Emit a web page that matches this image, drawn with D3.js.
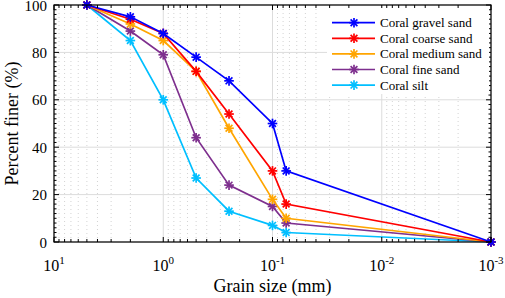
<!DOCTYPE html>
<html>
<head>
<meta charset="utf-8">
<style>
  body { margin: 0; background: #fff; }
  svg text { font-family: 'Liberation Serif', 'DejaVu Serif', serif; fill: #000; }
</style>
</head>
<body>
<svg id="chart" width="505" height="298"></svg>
<script src="https://d3js.org/d3.v7.min.js"></script>
<script>
    // grain size (mm) of each sieve, and percent finer per soil
    const grainSizes = [5, 2, 1, 0.5, 0.25, 0.1, 0.075, 0.001]
    const seriesNames = ['Coral gravel sand', 'Coral coarse sand', 'Coral medium sand', 'Coral fine sand', 'Coral silt']
    const gravelSand = [100, 95, 88, 78, 68, 50, 30, 0]
    const coarseSand = [100, 94, 88, 72, 54, 30, 16, 0]
    const mediumSand = [100, 92, 85, 72, 48, 18, 10, 0]
    const fineSand   = [100, 89, 79, 44, 24, 15, 8, 0]
    const silt       = [100, 85, 60, 27, 13, 7, 4, 0]
    const seriesColors = ['#0000ff', '#ff0000', '#ffa500', '#7e2f8e', '#00bfff']
    const xTickExp = [1, 0, -1, -2, -3]
    const yTicks = [0, 20, 40, 60, 80, 100]

    const allSeries = [gravelSand, coarseSand, mediumSand, fineSand, silt]
    const serif = "'Liberation Serif', 'DejaVu Serif', serif"

    const svg = d3.select('#chart')
    const pl = 54, pr = 491, pt = 5, pb = 242

    const xScale = d3.scaleLog()
                     .domain([10, 0.001])
                     .range([pl, pr])
    const yScale = d3.scaleLinear()
                     .domain([0, 100])
                     .range([pb, pt])

    // minor log values 2..9 for each decade
    const minorX = []
    for (let e = -3; e < 1; e++) {
      for (let m = 2; m <= 9; m++) minorX.push(m * Math.pow(10, e))
    }
    const minorY = d3.range(0, 101, 2).filter(v => v % 20 !== 0)

    // grid
    const grid = svg.append('g')
    grid.selectAll('.gmx')
        .data(minorX)
        .join('line')
        .attr('x1', d => xScale(d)).attr('x2', d => xScale(d))
        .attr('y1', pt).attr('y2', pb)
        .attr('stroke', '#c8c8c8')
        .attr('stroke-width', 0.8)
        .attr('stroke-dasharray', '1,3')
    grid.selectAll('.gx')
        .data(xTickExp.map(e => Math.pow(10, e)))
        .join('line')
        .attr('x1', d => xScale(d)).attr('x2', d => xScale(d))
        .attr('y1', pt).attr('y2', pb)
        .attr('stroke', '#dcdcdc')
        .attr('stroke-width', 1)
    grid.selectAll('.gy')
        .data(yTicks)
        .join('line')
        .attr('x1', pl).attr('x2', pr)
        .attr('y1', d => yScale(d)).attr('y2', d => yScale(d))
        .attr('stroke', '#dcdcdc')
        .attr('stroke-width', 1)

    // lines + asterisk markers
    const lineGen = d3.line()
                      .x((d, i) => xScale(grainSizes[i]))
                      .y(d => yScale(d))

    const asterisk = (g, x, y, color) => {
      const r = 4.8, q = r * 0.707
      const segs = [[-r, 0, r, 0], [0, -r, 0, r], [-q, -q, q, q], [-q, q, q, -q]]
      segs.forEach(s => {
        g.append('line')
         .attr('x1', x + s[0]).attr('y1', y + s[1])
         .attr('x2', x + s[2]).attr('y2', y + s[3])
         .attr('stroke', color)
         .attr('stroke-width', 1.7)
      })
    }

    // draw silt first so gravel ends up on top
    for (let k = allSeries.length - 1; k >= 0; k--) {
      const g = svg.append('g')
      g.append('path')
       .attr('d', lineGen(allSeries[k]))
       .attr('fill', 'none')
       .attr('stroke', seriesColors[k])
       .attr('stroke-width', 1.7)
      allSeries[k].forEach((v, i) => asterisk(g, xScale(grainSizes[i]), yScale(v), seriesColors[k]))
    }

    // axes box
    const ax = svg.append('g')
    ax.append('rect')
      .attr('x', pl).attr('y', pt)
      .attr('width', pr - pl).attr('height', pb - pt)
      .attr('fill', 'none')
      .attr('stroke', '#000')
      .attr('stroke-width', 1.2)

    // ticks (inward, on all four sides)
    const tickLines = (vals, len, horiz) => {
      vals.forEach(v => {
        if (horiz) {
          const x = xScale(v)
          ax.append('line').attr('x1', x).attr('x2', x).attr('y1', pb).attr('y2', pb - len).attr('stroke', '#000')
          ax.append('line').attr('x1', x).attr('x2', x).attr('y1', pt).attr('y2', pt + len).attr('stroke', '#000')
        } else {
          const y = yScale(v)
          ax.append('line').attr('x1', pl).attr('x2', pl + len).attr('y1', y).attr('y2', y).attr('stroke', '#000')
          ax.append('line').attr('x1', pr).attr('x2', pr - len).attr('y1', y).attr('y2', y).attr('stroke', '#000')
        }
      })
    }
    tickLines(xTickExp.map(e => Math.pow(10, e)), 5, true)
    tickLines(minorX, 3, true)
    tickLines(yTicks, 5, false)
    tickLines(minorY, 2.5, false)

    // tick labels
    xTickExp.forEach(e => {
      const t = svg.append('text')
                   .attr('x', xScale(Math.pow(10, e)))
                   .attr('y', 271)
                   .attr('text-anchor', 'middle')
                   .attr('font-family', serif)
                   .attr('font-size', 16)
      t.append('tspan').text('10')
      t.append('tspan').attr('font-size', 11).attr('dy', -7).text(e)
    })
    svg.selectAll('.ylab')
       .data(yTicks)
       .join('text')
       .attr('x', 47)
       .attr('y', d => yScale(d) + 0.5)
       .attr('dy', '0.34em')
       .attr('text-anchor', 'end')
       .attr('font-family', serif)
       .attr('font-size', 15)
       .text(d => d)

    // axis titles
    svg.append('text')
       .attr('x', (pl + pr) / 2)
       .attr('y', 292)
       .attr('text-anchor', 'middle')
       .attr('font-family', serif)
       .attr('font-size', 18)
       .text('Grain size (mm)')
    svg.append('text')
       .attr('transform', `translate(18,${(pt + pb) / 2}) rotate(-90)`)
       .attr('text-anchor', 'middle')
       .attr('font-family', serif)
       .attr('font-size', 18)
       .text('Percent finer (%)')

    // legend
    const lg = svg.append('g')
    lg.append('rect')
      .attr('x', 327).attr('y', 8)
      .attr('width', 162).attr('height', 86)
      .attr('fill', '#fff')
    seriesNames.forEach((name, i) => {
      const y = 22.7 + i * 15.6
      lg.append('line')
        .attr('x1', 332).attr('x2', 375)
        .attr('y1', y).attr('y2', y)
        .attr('stroke', seriesColors[i])
        .attr('stroke-width', 1.7)
      asterisk(lg, 354, y, seriesColors[i])
      lg.append('text')
        .attr('x', 380)
        .attr('y', y)
        .attr('dy', '0.35em')
        .attr('font-family', serif)
        .attr('font-size', 13)
        .text(name)
    })
</script>
</body>
</html>
